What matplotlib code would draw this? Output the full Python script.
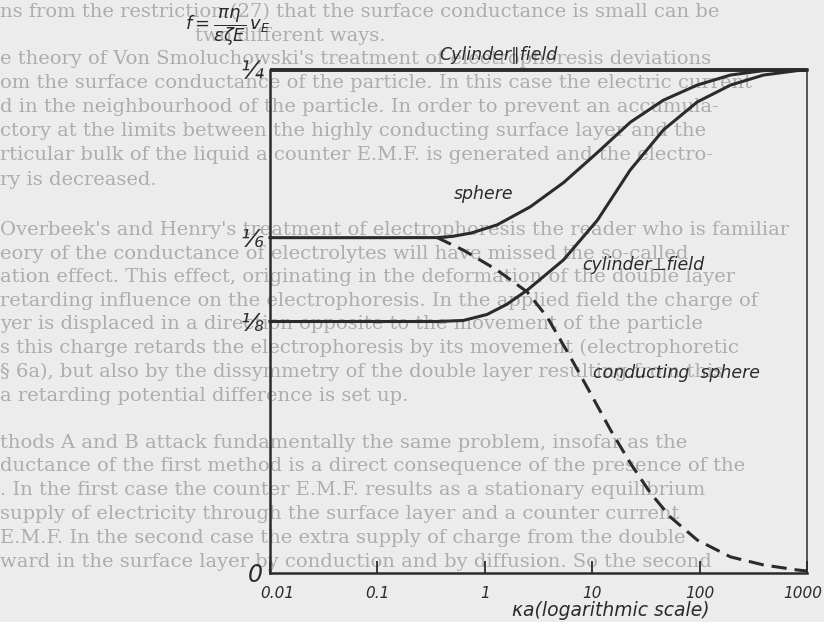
import matplotlib
matplotlib.use("Agg")
import matplotlib.pyplot as plt

# values: x = kappa*a, y = f
ka_cyl_par = [0.01, 1000]
f_cyl_par = [0.25, 0.25]

ka_sphere = [0.01, 0.1, 0.36, 0.5, 0.75, 1.3, 2.65, 5.4, 11.2, 22.6, 46, 95, 194, 394, 1000]
f_sphere = [1/6, 1/6, 0.1667, 0.1673, 0.169, 0.173, 0.182, 0.194, 0.209, 0.224, 0.235,
            0.2425, 0.2475, 0.2497, 0.25]

ka_cyl_perp = [0.01, 0.1, 0.36, 0.63, 1.05, 1.6, 2.5, 5.4, 11.2, 22.6, 46, 95, 194,
               394, 813, 1000]
f_cyl_perp = [0.125, 0.125, 0.125, 0.1255, 0.1285, 0.1335, 0.1407, 0.1556, 0.1754,
              0.2003, 0.2202, 0.2341, 0.2425, 0.2475, 0.2497, 0.25]

ka_cond = [0.36, 0.63, 1.3, 2.48, 3.81, 6.25, 9.6, 14.8, 22.6, 34.8, 53.5, 95, 194,
           394, 813, 1000]
f_cond = [0.1667, 0.1605, 0.1506, 0.1397, 0.1272, 0.1074, 0.0895, 0.0711, 0.0547,
          0.0398, 0.0278, 0.0164, 0.008, 0.004, 0.0015, 0.001]

xticks = [0.01, 0.1, 1, 10, 100, 1000]
xtick_labels = ['0.01', '0.1', '1', '10', '100', '1000']
yticks = [0, 1/8, 1/6, 1/4]
ytick_labels = ['0', '⅛', '⅙', '¼']

# the printed page showing behind the graph (x, y = pixel column / row from top-left)
page_lines = [
    (0, 12, "ns from the restriction (27) that the surface conductance is small can be"),
    (195, 36, "two different ways."),
    (0, 59, "e theory of Von Smoluchowski's treatment of electrophoresis deviations"),
    (0, 83, "om the surface conductance of the particle. In this case the electric current"),
    (0, 107, "d in the neighbourhood of the particle. In order to prevent an accumula-"),
    (0, 131, "ctory at the limits between the highly conducting surface layer and the"),
    (0, 155, "rticular bulk of the liquid a counter E.M.F. is generated and the electro-"),
    (0, 180, "ry is decreased."),
    (0, 230, "Overbeek's and Henry's treatment of electrophoresis the reader who is familiar"),
    (0, 254, "eory of the conductance of electrolytes will have missed the so-called"),
    (0, 277, "ation effect. This effect, originating in the deformation of the double layer"),
    (0, 301, "retarding influence on the electrophoresis. In the applied field the charge of"),
    (0, 324, "yer is displaced in a direction opposite to the movement of the particle"),
    (0, 348, "s this charge retards the electrophoresis by its movement (electrophoretic"),
    (0, 372, "§ 6a), but also by the dissymmetry of the double layer resulting from this"),
    (0, 396, "a retarding potential difference is set up."),
    (0, 443, "thods A and B attack fundamentally the same problem, insofar as the"),
    (0, 466, "ductance of the first method is a direct consequence of the presence of the"),
    (0, 490, ". In the first case the counter E.M.F. results as a stationary equilibrium"),
    (0, 514, "supply of electricity through the surface layer and a counter current"),
    (0, 538, "E.M.F. In the second case the extra supply of charge from the double"),
    (0, 562, "ward in the surface layer by conduction and by diffusion. So the second"),
]

W, H = 824, 622
ink = '#2b2b2b'

fig = plt.figure(figsize=(W / 100, H / 100), dpi=100, facecolor='#ececec')

for px, py, line in page_lines:
    fig.text(px / W, 1 - py / H, line, fontsize=14, family='DejaVu Serif',
             color='#adadad', va='center', ha='left', zorder=-5)

ax = fig.add_axes([270 / W, 49 / H, 537 / W, 503 / H])
ax.patch.set_alpha(0)
ax.set_xscale('log')
ax.set_xlim(0.01, 1000)
ax.set_ylim(0, 0.25)

lw = 2.2
ax.plot(ka_cyl_par, f_cyl_par, color=ink, lw=2.8, clip_on=False, solid_capstyle='butt')
ax.plot(ka_sphere, f_sphere, color=ink, lw=lw, clip_on=False)
ax.plot(ka_cyl_perp, f_cyl_perp, color=ink, lw=lw, clip_on=False)
ax.plot(ka_cond, f_cond, color=ink, lw=lw, dashes=(5, 2.6), clip_on=False)

ax.spines['top'].set_visible(False)
ax.spines['left'].set_linewidth(1.8)
ax.spines['bottom'].set_linewidth(1.8)
ax.spines['right'].set_linewidth(1.1)
for s in ax.spines.values():
    s.set_color(ink)

ax.minorticks_off()
ax.set_xticks(xticks)
# end labels are placed by hand so that "1000" stays inside the picture
ax.set_xticklabels([''] + xtick_labels[1:-1] + [''], fontstyle='italic', fontsize=11,
                   color=ink)
ax.tick_params(axis='x', direction='in', length=9, width=1.3, pad=9, color=ink)
tl = dict(xycoords=('data', 'axes fraction'), textcoords='offset points',
          fontstyle='italic', fontsize=11, color=ink, ha='center', va='top')
ax.annotate(xtick_labels[0], (xticks[0], 0), xytext=(5, -9), **tl)
ax.annotate(xtick_labels[-1], (xticks[-1], 0), xytext=(-3, -9), **tl)

ax.set_yticks(yticks)
ax.set_yticklabels(ytick_labels, fontstyle='italic', fontsize=17, color=ink)
ax.tick_params(axis='y', length=0, pad=5)

ax.set_xlabel('κa(logarithmic scale)', fontstyle='italic', fontsize=13.5, color=ink)
ax.xaxis.set_label_coords((611 - 270) / 537, -0.056)

lab = dict(fontstyle='italic', fontsize=12.5, color=ink, ha='center', va='center',
           clip_on=False)
ax.text(1.35, 0.2575, 'Cylinder∥field', **lab)
ax.text(0.98, 0.1885, 'sphere', **lab)
ax.text(30, 0.153, 'cylinder⊥field', **lab)
ax.text(61, 0.0995, 'conducting  sphere', **lab)

fig.text(228 / W, 1 - 27 / H, r'$f=\dfrac{\pi\eta}{\varepsilon\zeta E}\,v_E$',
         fontsize=13, color=ink, ha='center', va='center')

fig.savefig('out.png', dpi=100, facecolor=fig.get_facecolor())
